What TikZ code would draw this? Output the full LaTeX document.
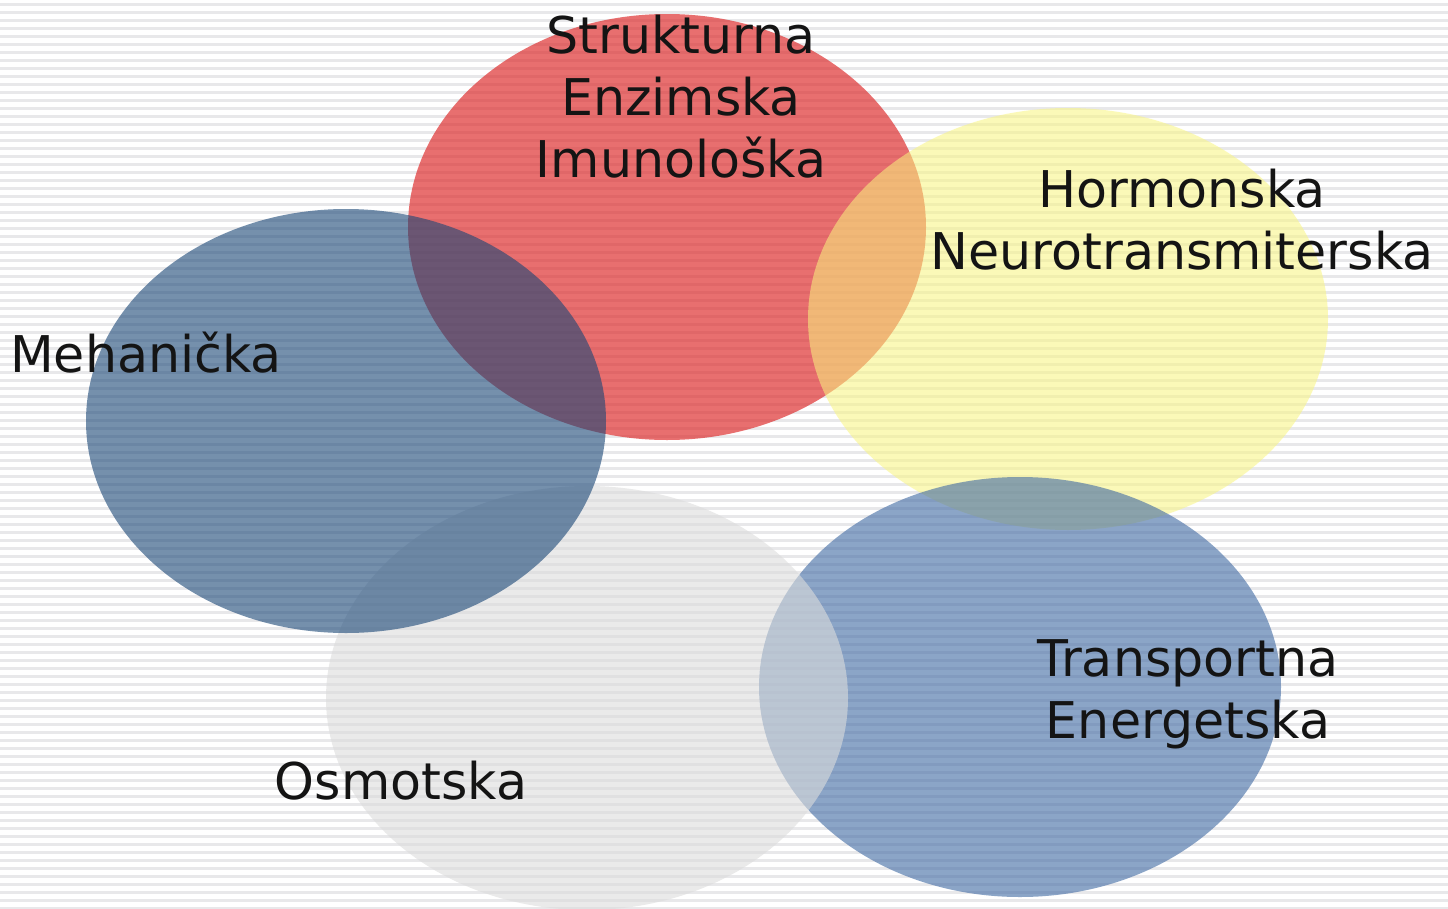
\documentclass[tikz,border=0pt]{standalone}
\usepackage{fontspec}
\setmainfont{DejaVu Sans}
\begin{document}
\begin{tikzpicture}[x=0.01cm,y=-0.01cm,
  blob/.style={draw=none,fill opacity=0.6},
  lbl/.style={font=\fontsize{14.4}{17.6}\selectfont,align=center,text=black!92}]
\definecolor{cred}{RGB}{220,35,35}
\definecolor{cyel}{RGB}{249,245,127}
\definecolor{cdblue}{RGB}{25,70,118}
\definecolor{clblue}{RGB}{63,105,163}
\definecolor{cgray}{RGB}{220,220,220}
\definecolor{stripe}{RGB}{232,232,234}
\fill[white] (0,0) rectangle (1448,909);
\useasboundingbox (0,0) rectangle (1448,909);
\foreach \i in {0,...,113} {
  \fill[stripe] (0,{\i*8+3}) rectangle (1448,{\i*8+6});
}
\fill[blob,cred,fill opacity=0.65] (667,227) ellipse [x radius=259,y radius=213];
\fill[blob,cyel,fill opacity=0.55] (1068,319) ellipse [x radius=260,y radius=211];
\fill[blob,clblue] (1020,687) ellipse [x radius=261,y radius=210];
\fill[blob,cgray] (587,698) ellipse [x radius=261,y radius=212];
\fill[blob,cdblue] (346,421) ellipse [x radius=260,y radius=212];
\node[lbl] (top) at (681,97) {Strukturna\\Enzimska\\Imunološka};
\node[lbl] (horm) at (1182,220) {Hormonska\\Neurotransmiterska};
\node[lbl] (meh) at (146,353) {Mehanička};
\node[lbl] (trans) at (1188,694) {Transportna\\Energetska};
\node[lbl] (osm) at (401,781) {Osmotska};
\end{tikzpicture}
\end{document}
